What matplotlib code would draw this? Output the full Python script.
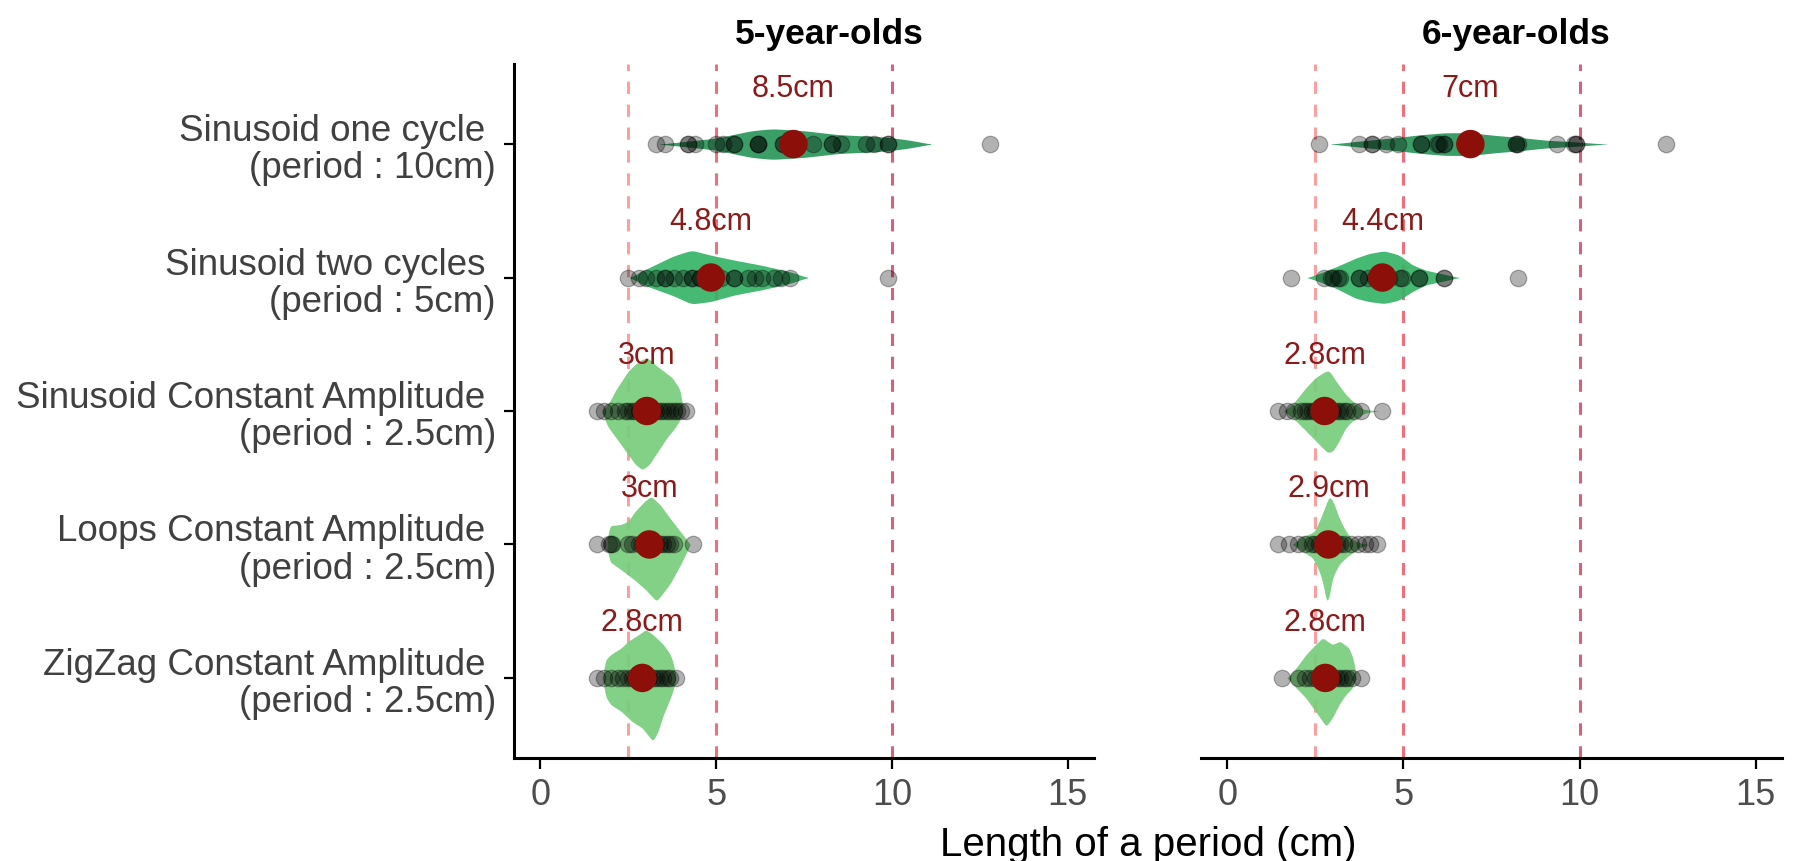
import numpy as np
import matplotlib
matplotlib.use("Agg")
import matplotlib.pyplot as plt

plt.rcParams["font.family"] = ["Liberation Sans", "DejaVu Sans"]

# Categories, top to bottom
categories = [
    "Sinusoid one cycle \n(period : 10cm)",
    "Sinusoid two cycles \n(period : 5cm)",
    "Sinusoid Constant Amplitude \n(period : 2.5cm)",
    "Loops Constant Amplitude \n(period : 2.5cm)",
    "ZigZag Constant Amplitude \n(period : 2.5cm)",
]
panels = ["5-year-olds", "6-year-olds"]

# Individual measured periods (cm)
lengths_5 = [
    [3.3, 3.55, 4.2, 4.2, 4.4, 5.0, 5.2, 5.5, 5.5, 6.2, 6.2, 6.2, 6.9, 6.9,
     7.2, 7.75, 8.3, 8.3, 8.55, 9.25, 9.5, 9.9, 9.9, 12.8],
    [2.5, 2.8, 3.0, 3.3, 3.55, 3.55, 3.8, 4.05, 4.3, 4.3, 4.55, 4.55, 4.8,
     5.15, 5.5, 5.5, 5.9, 6.1, 6.3, 6.65, 6.85, 7.1, 9.9],
    [1.6, 1.8, 2.0, 2.2, 2.4, 2.5, 2.6, 2.7, 2.8, 2.9, 3.0, 3.0, 3.1, 3.2,
     3.3, 3.4, 3.5, 3.6, 3.7, 3.8, 3.9, 4.0, 4.15],
    [1.6, 1.95, 2.0, 2.05, 2.5, 2.6, 2.8, 2.9, 3.0, 3.1, 3.2, 3.3, 3.4, 3.5,
     3.6, 3.7, 3.8, 4.35],
    [1.6, 1.8, 2.0, 2.2, 2.35, 2.5, 2.6, 2.7, 2.8, 2.9, 3.0, 3.1, 3.2, 3.3,
     3.4, 3.5, 3.6, 3.7, 3.85],
]
lengths_6 = [
    [2.6, 3.75, 4.1, 4.1, 4.5, 4.85, 5.5, 5.5, 5.95, 6.0, 6.15, 6.15, 8.2,
     8.2, 8.25, 9.35, 9.85, 9.9, 9.9, 12.45],
    [1.8, 2.75, 2.95, 3.0, 3.15, 3.2, 3.75, 3.75, 4.0, 4.2, 4.4, 4.6, 4.9,
     4.95, 5.45, 5.45, 6.15, 6.15, 8.25],
    [1.45, 1.7, 1.9, 2.1, 2.2, 2.3, 2.4, 2.5, 2.6, 2.7, 2.8, 2.9, 3.0, 3.1,
     3.2, 3.3, 3.4, 3.6, 3.8, 4.4],
    [1.45, 1.75, 2.0, 2.2, 2.4, 2.5, 2.6, 2.7, 2.8, 2.9, 3.0, 3.1, 3.2, 3.3,
     3.5, 3.7, 3.9, 4.05, 4.25],
    [1.55, 2.0, 2.2, 2.35, 2.5, 2.6, 2.7, 2.8, 2.9, 3.0, 3.1, 3.2, 3.3, 3.4,
     3.55, 3.8],
]

# Summary dot and its label
means_5 = [7.2, 4.85, 3.03, 3.1, 2.9]
means_6 = [6.9, 4.4, 2.76, 2.87, 2.78]
labels_5 = ["8.5cm", "4.8cm", "3cm", "3cm", "2.8cm"]
labels_6 = ["7cm", "4.4cm", "2.8cm", "2.9cm", "2.8cm"]

# Violin outlines: (x, half width above) and (x, half width below)
upper_5 = [
    [(3.4, 0), (4.2, .022), (5.0, .045), (6.0, .10), (6.6, .115), (7.5, .10),
     (8.5, .07), (9.5, .058), (9.9, .05), (10.5, .03), (11.1, 0)],
    [(2.55, 0), (2.98, .06), (3.77, .16), (4.3, .205), (4.84, .168),
     (5.53, .13), (6.3, .092), (7.15, .04), (7.6, 0)],
    [(1.75, 0), (1.95, .06), (2.15, .16), (2.35, .24), (2.5, .30), (2.7, .35),
     (2.9, .39), (3.1, .39), (3.3, .34), (3.5, .30), (3.75, .25), (4.0, .15),
     (4.05, 0)],
    [(1.9, 0), (1.95, .14), (2.3, .15), (2.5, .175), (2.7, .25), (2.97, .325),
     (3.15, .36), (3.4, .3), (3.68, .2), (3.97, .1), (4.16, .038), (4.25, 0)],
    [(1.8, 0), (1.82, .125), (2.0, .175), (2.3, .225), (2.5, .275), (2.8, .325),
     (3.0, .363), (3.2, .325), (3.5, .25), (3.7, .175), (3.8, .1), (3.85, 0)],
]
lower_5 = [
    [(3.4, 0), (4.2, .022), (5.0, .045), (6.0, .10), (6.6, .115), (7.5, .10),
     (8.5, .07), (9.5, .058), (9.9, .05), (10.5, .03), (11.1, 0)],
    [(2.55, 0), (2.98, .06), (3.77, .135), (4.3, .198), (4.84, .18),
     (5.53, .13), (6.3, .092), (7.15, .04), (7.6, 0)],
    [(1.75, 0), (1.9, .11), (2.15, .2), (2.4, .29), (2.7, .4), (2.9, .44),
     (3.1, .4), (3.35, .3), (3.6, .2), (3.85, .12), (4.0, .05), (4.05, 0)],
    [(1.9, 0), (1.95, .125), (2.3, .19), (2.7, .27), (3.0, .34), (3.3, .425),
     (3.5, .36), (3.7, .29), (3.97, .16), (4.16, .06), (4.25, 0)],
    [(1.8, 0), (1.82, .125), (2.0, .2), (2.3, .25), (2.6, .325), (2.9, .375),
     (3.05, .425), (3.2, .475), (3.35, .4), (3.5, .275), (3.7, .15),
     (3.8, .075), (3.85, 0)],
]
upper_6 = [
    [(2.94, 0), (3.74, .022), (4.83, .05), (5.49, .07), (6.19, .085),
     (6.9, .085), (7.6, .065), (8.3, .05), (9.0, .03), (9.78, .018),
     (10.77, 0)],
    [(2.28, 0), (2.6, .03), (3.08, .08), (3.64, .145), (4.02, .18),
     (4.45, .2), (4.87, .17), (5.25, .095), (5.63, .055), (6.1, .028),
     (6.57, 0)],
    [(1.6, 0), (1.85, .05), (2.23, .175), (2.5, .25), (2.8, .3), (2.9, .3),
     (3.08, .225), (3.36, .125), (3.65, .05), (3.84, .013), (4.3, 0)],
    [(1.85, 0), (2.14, .063), (2.3, .075), (2.48, .1), (2.61, .175), (2.8, .3),
     (2.89, .363), (3.0, .325), (3.17, .2), (3.36, .1), (3.55, .038),
     (3.74, .013), (4.0, 0)],
    [(1.7, 0), (1.95, .075), (2.23, .175), (2.5, .25), (2.7, .3), (2.98, .25),
     (3.2, .275), (3.45, .225), (3.6, .125), (3.65, 0)],
]
lower_6 = [
    [(2.94, 0), (3.74, .022), (4.83, .05), (5.49, .07), (6.19, .085),
     (6.9, .085), (7.6, .065), (8.3, .05), (9.0, .03), (9.78, .018),
     (10.77, 0)],
    [(2.28, 0), (2.6, .03), (3.08, .08), (3.64, .155), (4.02, .18),
     (4.45, .195), (4.87, .17), (5.25, .105), (5.63, .055), (6.1, .028),
     (6.57, 0)],
    [(1.6, 0), (1.85, .05), (2.14, .125), (2.42, .2), (2.7, .275), (2.85, .313),
     (3.0, .3), (3.17, .225), (3.36, .125), (3.55, .075), (3.74, .038),
     (3.93, .013), (4.3, 0)],
    [(1.85, 0), (2.14, .05), (2.42, .1), (2.61, .2), (2.75, .325), (2.8, .438),
     (2.89, .4), (2.98, .25), (3.17, .15), (3.36, .1), (3.55, .063),
     (3.74, .025), (4.0, 0)],
    [(1.7, 0), (1.95, .075), (2.23, .15), (2.5, .25), (2.7, .325), (2.8, .363),
     (2.98, .3), (3.17, .2), (3.36, .125), (3.55, .075), (3.65, 0)],
]

violin_colors = ["#2a965a", "#36b366", "#78cd7d", "#78cd7d", "#78cd7d"]
guide_x = [2.5, 5, 10]
guide_colors = ["#f9a0a0", "#ef6f7a", "#d95f7a"]

fig = plt.figure(figsize=(17.96, 8.62), dpi=100)
ax_bottom = 1 - 759 / 862
ax_height = 694 / 862
ax5 = fig.add_axes([514 / 1796, ax_bottom, 580 / 1796, ax_height])
ax6 = fig.add_axes([1201 / 1796, ax_bottom, 581 / 1796, ax_height])


def smooth_outline(knots, xs):
    kx = [k[0] for k in knots]
    kw = [k[1] for k in knots]
    w = np.interp(xs, kx, kw)
    kernel = np.exp(-0.5 * (np.arange(-12, 13) / 5.0) ** 2)
    kernel /= kernel.sum()
    return np.convolve(np.pad(w, 12, mode="edge"), kernel, mode="valid")


def draw_panel(ax, title, lengths, means, labels, upper, lower):
    for gx, gc in zip(guide_x, guide_colors):
        ax.axvline(gx, color=gc, lw=2.2, dashes=(4, 3.5), zorder=1)
    for i in range(len(categories)):
        y = i + 1
        x0 = upper[i][0][0]
        x1 = upper[i][-1][0]
        xs = np.linspace(x0, x1, 300)
        up = smooth_outline(upper[i], xs)
        lo = smooth_outline(lower[i], xs)
        ax.fill_between(xs, y - up, y + lo, color=violin_colors[i],
                        alpha=0.92, lw=0, zorder=2)
        ax.scatter(lengths[i], [y] * len(lengths[i]), s=140, c="black",
                   alpha=0.3, edgecolors="black", linewidths=0.9, zorder=3)
        ax.scatter([means[i]], [y], s=420, c="#8c0f0a", edgecolors="none",
                   zorder=4)
        ax.text(means[i], y - 0.42, labels[i], ha="center", va="center",
                color="#8b1a1a", fontsize=22, zorder=5)

    ax.set_xlim(-0.75, 15.75)
    ax.set_ylim(5.6, 0.4)
    ax.set_xticks([0, 5, 10, 15])
    ax.tick_params(axis="x", labelsize=26, labelcolor="#4d4d4d", length=8,
                   width=1.6, pad=6)
    ax.set_title(title, fontsize=25.5, fontweight="bold", x=0.543, pad=15)
    for side in ["top", "right"]:
        ax.spines[side].set_visible(False)
    for side in ["left", "bottom"]:
        ax.spines[side].set_linewidth(2.2)


draw_panel(ax5, panels[0], lengths_5, means_5, labels_5, upper_5, lower_5)
draw_panel(ax6, panels[1], lengths_6, means_6, labels_6, upper_6, lower_6)

ax5.set_yticks(range(1, len(categories) + 1))
ax5.set_yticklabels(categories, fontsize=26.5, color="#404040", linespacing=1.08)
ax5.tick_params(axis="y", length=7, width=1.6, pad=6)

ax6.spines["left"].set_visible(False)
ax6.set_yticks([])

fig.text((514 + 1782) / 2 / 1796, 1 - 845 / 862, "Length of a period (cm)",
         ha="center", va="center", fontsize=29)

fig.savefig("out.png", dpi=100)
